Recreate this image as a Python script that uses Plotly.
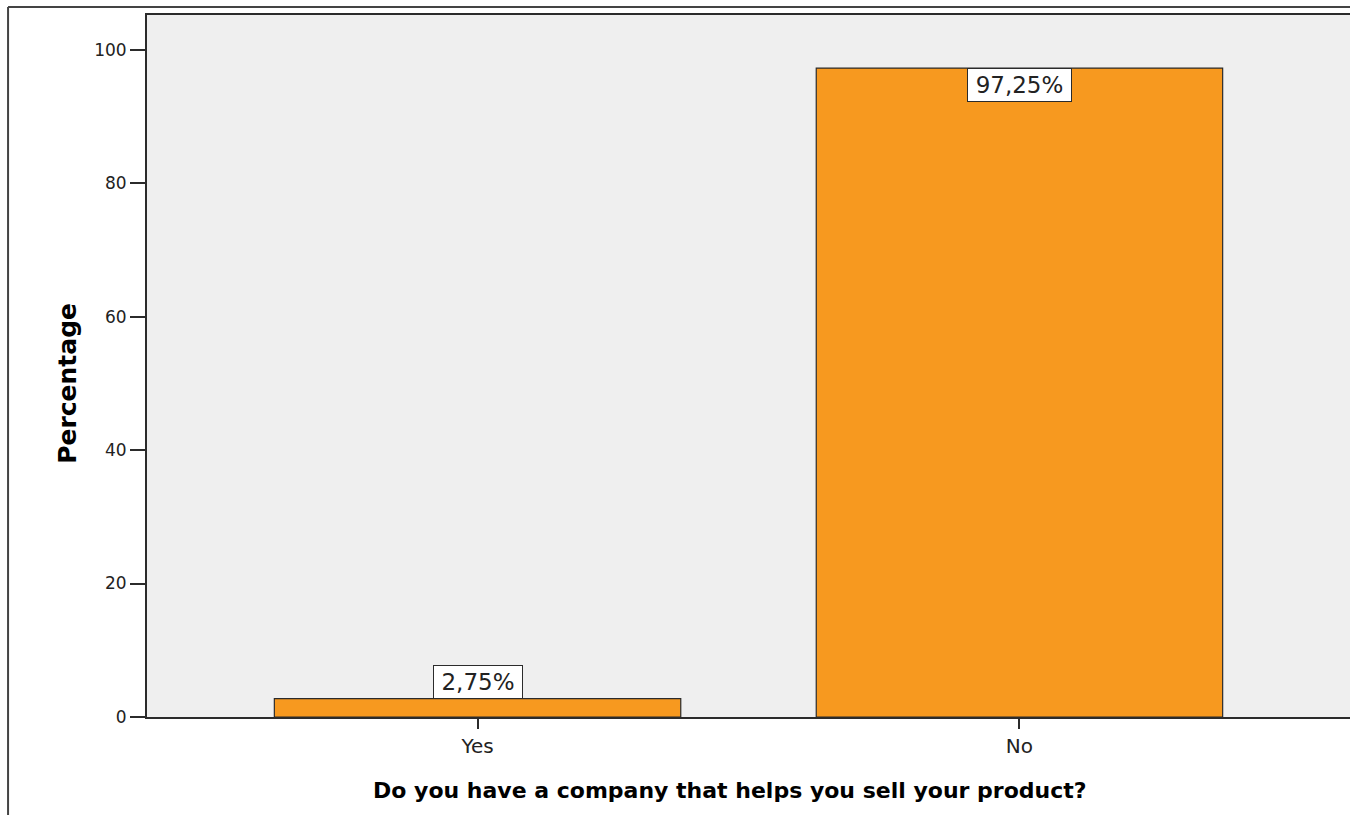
import plotly.graph_objects as go

# data
categories = ["Yes", "No"]
percentages = [2.75, 97.25]
y_ticks = [0, 20, 40, 60, 80, 100]

BAR_COLOR = "#F7991F"
PLOT_BG = "#EFEFEF"
LINE = "#2b2b2b"
FONT = "DejaVu Sans"

fig = go.Figure()

fig.add_trace(go.Bar(
    x=categories,
    y=percentages,
    width=0.75,
    marker=dict(color=BAR_COLOR, line=dict(color=LINE, width=1.2)),
    hoverinfo="skip",
))

# value labels in white boxes (inside the bar top when the bar is tall)
for cat, val in zip(categories, percentages):
    label = f"{val:.2f}%".replace(".", ",")
    inside = val > 10
    fig.add_annotation(
        x=cat, y=val,
        text=label,
        showarrow=False,
        yanchor="top" if inside else "bottom",
        font=dict(family=FONT, size=23, color="#222222"),
        bgcolor="white",
        bordercolor=LINE,
        borderwidth=1,
        borderpad=1,
        width=86 if len(label) < 6 else 101,
        height=30,
    )

# axis titles placed as in the original output
fig.add_annotation(
    xref="paper", yref="paper", x=-0.0657, y=0.476,
    text="<b>Percentage</b>", textangle=-90, showarrow=False,
    xanchor="center", yanchor="middle",
    font=dict(family=FONT, size=25, color="black"),
)
fig.add_annotation(
    xref="paper", yref="paper", x=0.4846, y=-0.104,
    text="<b>Do you have a company that helps you sell your product?</b>",
    showarrow=False, xanchor="center", yanchor="middle",
    font=dict(family=FONT, size=22, color="black"),
)

fig.update_layout(
    width=1350,
    height=815,
    margin=dict(l=147, r=0, t=15, b=98),
    paper_bgcolor="white",
    plot_bgcolor=PLOT_BG,
    showlegend=False,
    font=dict(family=FONT, color="#222222"),
)

fig.update_xaxes(
    type="category",
    range=[-0.61, 1.61],
    showline=True, mirror=True,
    linecolor=LINE, linewidth=2,
    ticks="outside", ticklen=10, tickcolor=LINE, tickwidth=1.5,
    tickfont=dict(family=FONT, size=20, color="#222222"),
    showgrid=False, zeroline=False,
)

fig.update_yaxes(
    range=[0, 105.2],
    tickvals=y_ticks,
    showline=True, linecolor=LINE, linewidth=2,
    ticks="outside", ticklen=15, tickcolor=LINE, tickwidth=1.5,
    tickfont=dict(family=FONT, size=17, color="#222222"),
    showgrid=False, zeroline=False,
)

# outer frame of the output (left and top edges)
fig.add_shape(type="line", xref="paper", yref="paper",
              x0=-0.1155, x1=-0.1155, y0=1.0114, y1=-0.15,
              line=dict(color="#444444", width=2))
fig.add_shape(type="line", xref="paper", yref="paper",
              x0=-0.1155, x1=1.01, y0=1.0114, y1=1.0114,
              line=dict(color="#444444", width=2))

# drop the default page margin so the figure fills the window exactly
fig.write_html(
    "out.html",
    config={"displayModeBar": False},
    post_script="document.body.style.margin = '0';",
)
